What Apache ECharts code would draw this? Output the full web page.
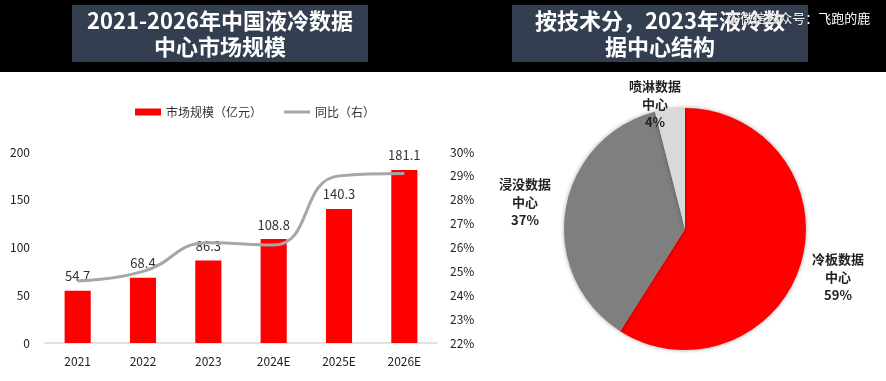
<!DOCTYPE html>
<html>
<head>
<meta charset="utf-8">
<script src="https://cdn.jsdelivr.net/npm/echarts@6/dist/echarts.min.js"></script>
<style>
html,body{margin:0;padding:0;background:#fff;}
#main{width:886px;height:381px;}
</style>
</head>
<body>
<div id="main"></div>
<script>
// ---- data ----
const years = ['2021', '2022', '2023', '2024E', '2025E', '2026E'];
const marketSize = [54.7, 68.4, 86.3, 108.8, 140.3, 181.1];
const yoy = [0.246, 0.250, 0.262, 0.261, 0.290, 0.291];
const pieNames = ['冷板数据\n中心', '浸没数据\n中心', '喷淋数据\n中心'];
const pieValues = [59, 37, 4];
const leftTicks = [0, 50, 100, 150, 200];
const rightTicks = ['22%', '23%', '24%', '25%', '26%', '27%', '28%', '29%', '30%'];

const FONT = '"Noto Sans CJK SC", "Noto Sans", sans-serif';
const chart = echarts.init(document.getElementById('main'), null, {renderer: 'canvas'});

const pieLabelPos = [[838, 277], [525, 202], [655, 104]];

chart.setOption({
  backgroundColor: '#ffffff',
  animation: false,
  textStyle: {fontFamily: FONT},
  graphic: [
    {type: 'rect', shape: {x: 0, y: 0, width: 886, height: 72}, style: {fill: '#000000'}, z: 0},
    {type: 'rect', shape: {x: 72, y: 5, width: 296, height: 57}, style: {fill: '#333f50'}, z: 1},
    {type: 'rect', shape: {x: 512, y: 5, width: 296, height: 57}, style: {fill: '#333f50'}, z: 1},
    {type: 'text', x: 220, y: 34, z: 2, style: {text: '2021-2026年中国液冷数据\n中心市场规模', fill: '#ffffff', font: 'bold 22px ' + FONT, align: 'center', verticalAlign: 'middle', lineHeight: 26}},
    {type: 'text', x: 660, y: 34, z: 2, style: {text: '按技术分，2023年液冷数\n据中心结构', fill: '#ffffff', font: 'bold 22px ' + FONT, align: 'center', verticalAlign: 'middle', lineHeight: 26}},
    {type: 'text', x: 728, y: 18, z: 3, style: {text: '@微信公众号：飞跑的鹿', fill: '#ffffff', font: '13px ' + FONT, align: 'left', verticalAlign: 'middle', textShadowColor: 'rgba(0,0,0,0.6)', textShadowBlur: 2}}
  ],
  legend: {
    left: 130, top: 101,
    itemWidth: 26, itemHeight: 7, itemGap: 22,
    textStyle: {fontSize: 12, color: '#333', fontFamily: FONT},
    data: [
      {name: '市场规模（亿元）', icon: 'rect'},
      {name: '同比（右）', icon: 'path://M0 0h26v3H0z'}
    ]
  },
  grid: {left: 45, right: 449, top: 152, bottom: 38},
  xAxis: {
    type: 'category', data: years,
    axisLine: {lineStyle: {color: '#d9d9d9', width: 1.5}},
    axisTick: {show: false},
    axisLabel: {color: '#222', fontSize: 12, margin: 12}
  },
  yAxis: [
    {
      type: 'value', min: leftTicks[0], max: leftTicks[leftTicks.length - 1], interval: 50,
      axisLine: {show: false}, axisTick: {show: false}, splitLine: {show: false},
      axisLabel: {color: '#222', fontSize: 12, margin: 15}
    },
    {
      type: 'value', min: 0.22, max: 0.30, interval: 0.01,
      axisLine: {show: false}, axisTick: {show: false}, splitLine: {show: false},
      axisLabel: {color: '#222', fontSize: 12, margin: 13, formatter: function (v) { const i = Math.round((v - 0.22) * 100); return rightTicks[i]; }}
    }
  ],
  series: [
    {
      name: '市场规模（亿元）', type: 'bar', data: marketSize, barWidth: '40%',
      itemStyle: {color: '#ff0000'},
      label: {show: true, position: 'top', distance: 8, color: '#333', fontSize: 13, fontFamily: FONT}
    },
    {
      name: '同比（右）', type: 'line', yAxisIndex: 1, data: yoy, smooth: 0.5,
      symbol: 'none', z: 5,
      lineStyle: {color: '#a6a6a6', width: 3},
      itemStyle: {color: '#a6a6a6'}
    },
    {
      name: 'pie', type: 'pie', center: [685, 229], radius: 121,
      startAngle: 90, clockwise: true,
      itemStyle: {shadowBlur: 4, shadowColor: 'rgba(0,0,0,0.35)'},
      label: {show: true, formatter: '{b}\n{d}%', fontSize: 13, fontWeight: 'bold', color: '#222', lineHeight: 18, align: 'center', overflow: 'none', width: 80},
      labelLine: {show: false},
      labelLayout: function (p) { const pos = pieLabelPos[p.dataIndex]; return {x: pos[0], y: pos[1], align: 'center', verticalAlign: 'middle'}; },
      data: pieNames.map(function (n, i) {
        return {name: n, value: pieValues[i], itemStyle: {color: ['#ff0000', '#7f7f7f', '#d9d9d9'][i]}};
      })
    }
  ]
});
</script>
</body>
</html>
